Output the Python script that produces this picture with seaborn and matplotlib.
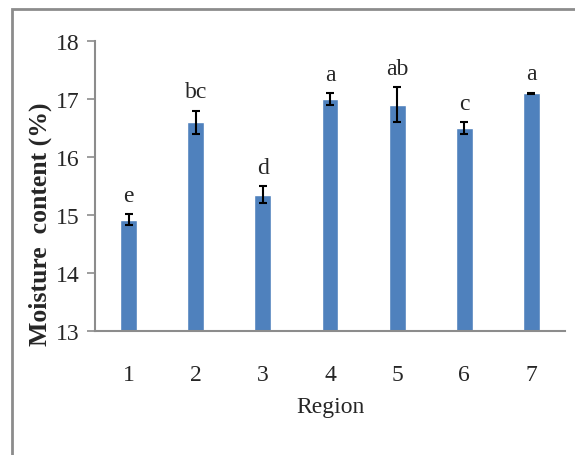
import numpy as np
import pandas as pd
import matplotlib
matplotlib.use("Agg")
import matplotlib.pyplot as plt
from matplotlib.patches import Rectangle
import seaborn as sns

# chart data
regions = ["1", "2", "3", "4", "5", "6", "7"]
moisture = [14.92, 16.60, 15.35, 17.00, 16.90, 16.50, 17.10]
errors = [0.10, 0.20, 0.15, 0.10, 0.30, 0.10, 0.01]
letters = ["e", "bc", "d", "a", "ab", "c", "a"]

df = pd.DataFrame({"Region": regions, "Moisture": moisture})

sns.set_style("white")
plt.rcParams["font.family"] = ["Liberation Serif", "DejaVu Serif"]

fig = plt.figure(figsize=(5.75, 4.56), dpi=100)
ax = fig.add_axes([95 / 575, 1 - 332 / 456, 470 / 575, 290 / 456])

bar_color = "#4F81BD"
sns.barplot(data=df, x="Region", y="Moisture", color=bar_color, width=0.25,
            saturation=1, ax=ax)

xpos = np.arange(len(regions))
ax.errorbar(xpos, moisture, yerr=errors, fmt="none", ecolor="black",
            elinewidth=1.5, capsize=3, capthick=1.5)

for x, m, e, lab in zip(xpos, moisture, errors, letters):
    ax.annotate(lab, (x, m + e), xytext=(0, 6), textcoords="offset points",
                ha="center", va="bottom", fontsize=17)

ax.set_ylim(13, 18)
ax.set_yticks([13, 14, 15, 16, 17, 18])
ax.set_xlim(-0.5, len(regions) - 0.5)

for side in ["top", "right"]:
    ax.spines[side].set_visible(False)
for side in ["left", "bottom"]:
    ax.spines[side].set_color("#8c8c8c")
    ax.spines[side].set_linewidth(1.5)

ax.tick_params(axis="y", which="both", left=True, length=6, width=1.2,
               color="#8c8c8c", labelsize=17, pad=5)
ax.tick_params(axis="x", bottom=False, labelsize=17, pad=20)

ax.set_xlabel("Region", fontsize=17, labelpad=8)
ax.set_ylabel("")
fig.text(40 / 575, 1 - 224 / 456, "Moisture  content (%)", rotation=90,
         ha="center", va="center", fontsize=18.5, fontweight="bold")

# outer frame (only top and left edges visible in the crop)
fig.patches.append(Rectangle((12 / 575, -0.1), 1.2, 1 - 10 / 456 + 0.1,
                             transform=fig.transFigure, fill=False,
                             edgecolor="#8c8c8c", linewidth=2))

fig.savefig("out.png", dpi=100)
